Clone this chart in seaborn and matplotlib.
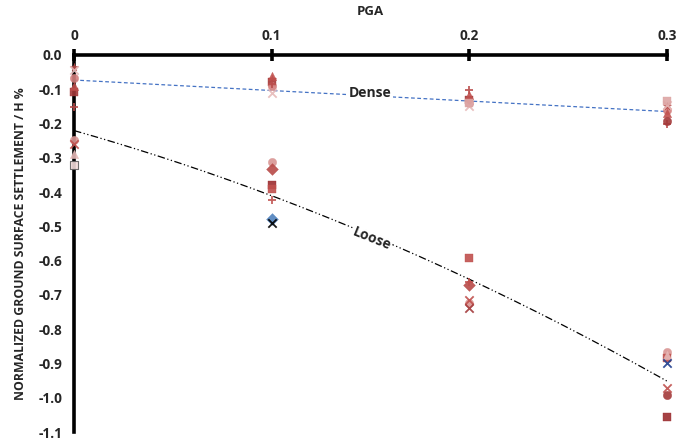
import numpy as np
import pandas as pd
import matplotlib
matplotlib.use("Agg")
import matplotlib.pyplot as plt
import seaborn as sns

# ---------------- data ----------------
pga_ticks = [0, 0.1, 0.2, 0.3]
pga_tick_labels = ["0", "0.1", "0.2", "0.3"]
y_ticks = [0.0, -0.1, -0.2, -0.3, -0.4, -0.5, -0.6, -0.7, -0.8, -0.9, -1.0, -1.1]

# each series: (name, marker, colour, x values, y values)
series = [
    # dense
    ("D-sq-dark",   "s", "#A3393A", [0, 0.1, 0.2],        [-0.108, -0.078, -0.130]),
    ("D-circ",      "o", "#D47F7D", [0, 0.1, 0.2, 0.3],   [-0.067, -0.090, -0.140, -0.160]),
    ("D-star",      "*", "#B84A48", [0, 0.1, 0.3],        [-0.035, -0.070, -0.150]),
    ("D-tri",       "^", "#C0504D", [0, 0.1, 0.2, 0.3],   [-0.090, -0.060, -0.117, -0.170]),
    ("D-x",         "x", "#E6B9B8", [0, 0.1, 0.2, 0.3],   [-0.045, -0.112, -0.150, -0.145]),
    ("D-plus",      "+", "#B84A48", [0, 0.1, 0.2, 0.3],   [-0.152, -0.085, -0.102, -0.200]),
    ("D-sq-light",  "s", "#DDA5A4", [0.2, 0.3],           [-0.140, -0.135]),
    ("D-circ-dark", "o", "#A3393A", [0.3],                [-0.192]),
    # loose
    ("L-circ",      "o", "#D99694", [0, 0.1, 0.2, 0.3],   [-0.248, -0.311, -0.724, -0.866]),
    ("L-dia",       "D", "#B84A48", [0.1, 0.2],           [-0.333, -0.671]),
    ("L-sq-dark",   "s", "#9B2D30", [0.1, 0.3],           [-0.379, -1.057]),
    ("L-sq",        "s", "#C0504D", [0.1, 0.2, 0.3],      [-0.390, -0.593, -0.884]),
    ("L-plus",      "+", "#C0504D", [0.1, 0.2],           [-0.423, -0.662]),
    ("L-x",         "x", "#C0504D", [0, 0.2, 0.3],        [-0.260, -0.715, -0.972]),
    ("L-tri",       "^", "#E6B9B8", [0, 0.3],             [-0.290, -0.875]),
    ("L-x2",        "x", "#A3393A", [0.2],                [-0.738]),
    ("L-sq-light",  "s", "#F2DCDB", [0],                  [-0.320]),
    ("L-blue",      "D", "#4F81BD", [0.1],                [-0.478]),
    ("L-black",     "x", "#000000", [0.1],                [-0.490]),
    ("L-navy",      "x", "#1F3F8F", [0.3],                [-0.900]),
    ("L-circ-dark", "o", "#A3393A", [0.3],                [-0.992]),
]

# trend lines
dense_trend_x = [0, 0.3]
dense_trend_y = [-0.073, -0.165]
loose_trend_x = [0, 0.1, 0.2, 0.3]
loose_trend_y = [-0.224, -0.400, -0.665, -0.948]

# ---------------- plot ----------------
sns.set_theme(style="white")
plt.rcParams["font.family"] = ["Open Sans", "DejaVu Sans"]
plt.rcParams["font.weight"] = "bold"

fig = plt.figure(figsize=(6.78, 4.41), dpi=100)
ax = fig.add_axes([74 / 678, 1 - 432 / 441, (667 - 74) / 678, (432 - 55) / 441])

# trend lines
dense_df = pd.DataFrame({"x": dense_trend_x, "y": dense_trend_y})
sns.lineplot(data=dense_df, x="x", y="y", ax=ax, color="#4472C4", lw=0.9,
             linestyle=(0, (3, 2)), zorder=2)
coef = np.polyfit(loose_trend_x, loose_trend_y, 2)
xs = np.linspace(0, 0.3, 200)
loose_df = pd.DataFrame({"x": xs, "y": np.polyval(coef, xs)})
sns.lineplot(data=loose_df, x="x", y="y", ax=ax, color="black", lw=0.9,
             linestyle=(0, (6, 2, 1, 2, 1, 2)), zorder=2)

# scatter series
for name, mk, col, xv, yv in series:
    df = pd.DataFrame({"x": xv, "y": yv})
    kw = dict(s=36, zorder=3, clip_on=False, alpha=0.9)
    if mk in ("x", "+"):
        kw.update(color=col, linewidth=1.3)
    elif name == "L-sq-light":
        kw.update(color=col, edgecolor="#606060", linewidth=0.8)
    else:
        kw.update(color=col, edgecolor=col, linewidth=0.3)
    sns.scatterplot(data=df, x="x", y="y", marker=mk, ax=ax, legend=False, **kw)

# annotations
ax.text(0.1497, -0.111, "Dense", fontsize=10, fontweight="bold", ha="center",
        va="center", zorder=4,
        bbox=dict(facecolor="white", edgecolor="none", pad=1.5))
ax.text(0.1505, -0.537, "Loose", fontsize=10, fontweight="bold", ha="center",
        va="center", rotation=-22, zorder=4,
        bbox=dict(facecolor="white", edgecolor="none", pad=1.0))

# axes styling
ax.set_xlim(0, 0.3)
ax.set_ylim(-1.1, 0)
ax.xaxis.tick_top()
ax.xaxis.set_label_position("top")
ax.set_xticks(pga_ticks)
ax.set_xticklabels(pga_tick_labels)
ax.set_yticks(y_ticks)
ax.set_yticklabels([f"{v:.1f}" for v in y_ticks])
ax.set_xlabel("PGA", fontsize=9.5, fontweight="bold", labelpad=10)
ax.set_ylabel("NORMALIZED GROUND SURFACE SETTLEMENT / H %", fontsize=8.8,
              fontweight="bold", labelpad=8)
for sp in ("right", "bottom"):
    ax.spines[sp].set_visible(False)
for sp in ("top", "left"):
    ax.spines[sp].set_visible(True)
    ax.spines[sp].set_color("black")
    ax.spines[sp].set_linewidth(2.6)
ax.tick_params(axis="both", direction="inout", length=9, width=2.6,
               color="black", labelsize=9.8, pad=4)
for lab in ax.get_xticklabels() + ax.get_yticklabels():
    lab.set_fontweight("bold")
ax.grid(False)
ax.set_facecolor("white")
fig.patch.set_facecolor("white")

fig.savefig("out.png", dpi=100, facecolor="white")
